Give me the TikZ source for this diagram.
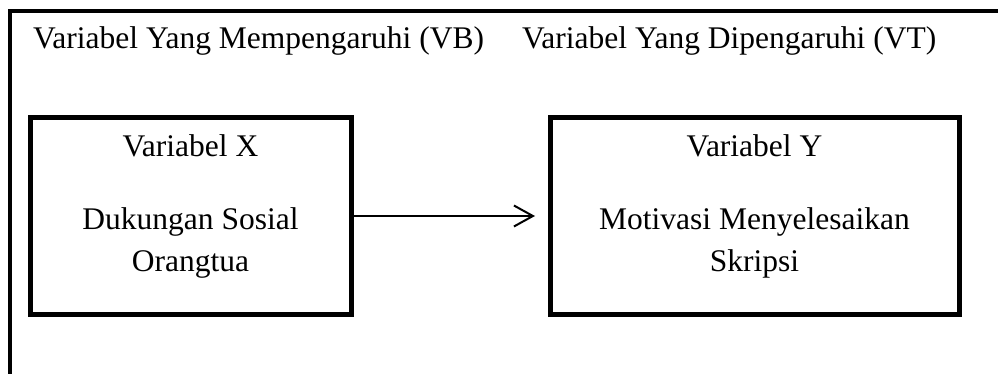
\documentclass[tikz,border=0pt]{standalone}
\usepackage{fontspec}
\setmainfont{Liberation Serif}
\usepackage{tikz}
\usetikzlibrary{arrows.meta}
\usetikzlibrary{positioning}

\begin{document}
\begin{tikzpicture}[x=1pt,y=-1pt,
    box/.style={draw,line width=5pt,minimum width=321pt,minimum height=196pt,outer sep=0pt,inner sep=0pt},
    txt/.style={font=\fontsize{31.5}{42}\selectfont,align=center,inner sep=0pt,anchor=base}]
    \useasboundingbox (0,0) rectangle (998,374);
    % frame, open at the right and at the bottom
    \draw [line width=4pt] (10,390) -- (10,11) -- (1010,11);
    \node [txt,anchor=base west] (vb) at (33,49) {Variabel Yang Mempengaruhi (VB)};
    \node [txt,anchor=base west] (vt) at (522,49) {Variabel Yang Dipengaruhi (VT)};
    \node [box] (x) at (190.5,216) {};
    \node [box,minimum width=409pt] (y) at (754.5,216) {};
    \node [txt] (xname) at ([yshift=-39pt]x.north) {Variabel X};
    \node [txt] (xtext) at ([yshift=-153pt]x.north) {Dukungan Sosial\\Orangtua};
    \node [txt] (yname) at ([yshift=-39pt]y.north) {Variabel Y};
    \node [txt] (ytext) at ([yshift=-153pt]y.north) {Motivasi Menyelesaikan\\Skripsi};
    \draw [-{Straight Barb[length=19pt,width=21pt]},line width=2pt,shorten >=15pt] (x.east) -- (y.west);
\end{tikzpicture}
\end{document}
